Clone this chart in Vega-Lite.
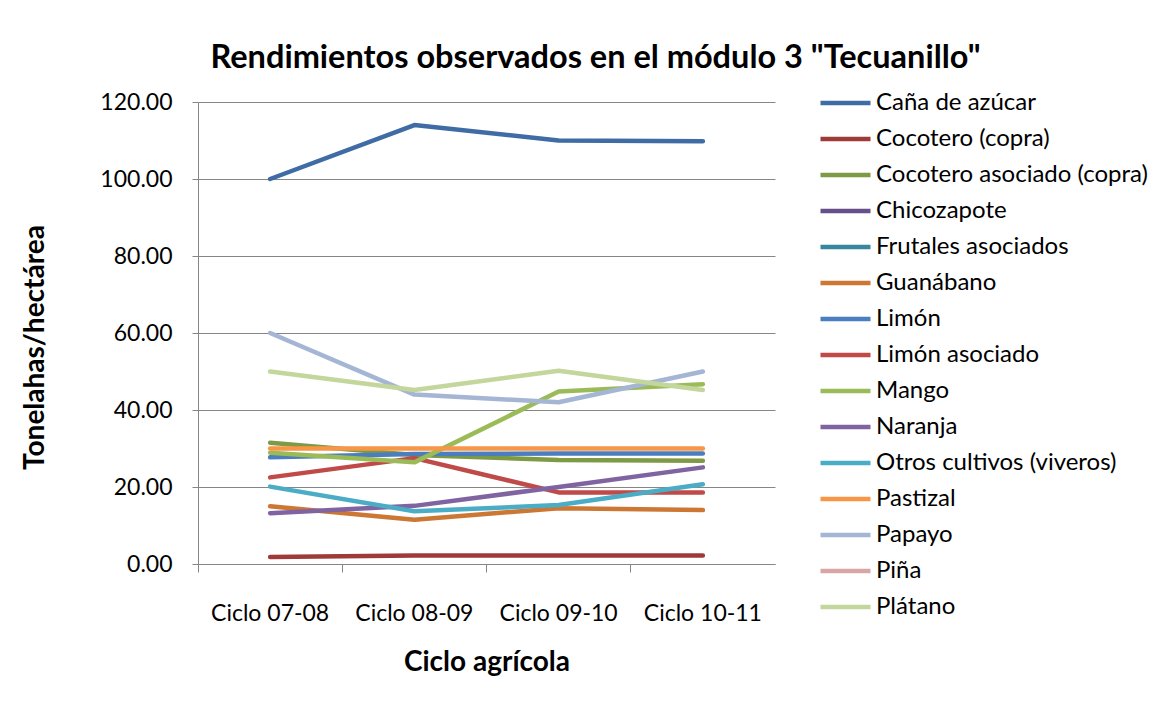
{
  "$schema": "https://vega.github.io/schema/vega-lite/v6.json",
  "width": 577,
  "height": 462,
  "autosize": {"type": "none"},
  "padding": {"left": 198, "top": 102, "right": 400, "bottom": 145},
  "background": "white",
  "title": {
    "text": "Rendimientos observados en el módulo 3 \"Tecuanillo\"",
    "font": "Lato",
    "fontSize": 32.5,
    "fontWeight": "bold",
    "color": "#000000",
    "anchor": "middle",
    "dx": 109,
    "offset": 11
  },
  "data": {
    "values": [
      {"ciclo": "Ciclo 07-08", "cultivo": "Caña de azúcar", "valor": 100.0},
      {"ciclo": "Ciclo 08-09", "cultivo": "Caña de azúcar", "valor": 114.0},
      {"ciclo": "Ciclo 09-10", "cultivo": "Caña de azúcar", "valor": 110.0},
      {"ciclo": "Ciclo 10-11", "cultivo": "Caña de azúcar", "valor": 109.8},
      {"ciclo": "Ciclo 07-08", "cultivo": "Cocotero (copra)", "valor": 1.8},
      {"ciclo": "Ciclo 08-09", "cultivo": "Cocotero (copra)", "valor": 2.2},
      {"ciclo": "Ciclo 09-10", "cultivo": "Cocotero (copra)", "valor": 2.2},
      {"ciclo": "Ciclo 10-11", "cultivo": "Cocotero (copra)", "valor": 2.2},
      {"ciclo": "Ciclo 07-08", "cultivo": "Cocotero asociado (copra)", "valor": 31.5},
      {"ciclo": "Ciclo 08-09", "cultivo": "Cocotero asociado (copra)", "valor": 28.3},
      {"ciclo": "Ciclo 09-10", "cultivo": "Cocotero asociado (copra)", "valor": 27.0},
      {"ciclo": "Ciclo 10-11", "cultivo": "Cocotero asociado (copra)", "valor": 26.8},
      {"ciclo": "Ciclo 07-08", "cultivo": "Guanábano", "valor": 15.0},
      {"ciclo": "Ciclo 08-09", "cultivo": "Guanábano", "valor": 11.5},
      {"ciclo": "Ciclo 09-10", "cultivo": "Guanábano", "valor": 14.5},
      {"ciclo": "Ciclo 10-11", "cultivo": "Guanábano", "valor": 14.0},
      {"ciclo": "Ciclo 07-08", "cultivo": "Limón", "valor": 27.7},
      {"ciclo": "Ciclo 08-09", "cultivo": "Limón", "valor": 28.6},
      {"ciclo": "Ciclo 09-10", "cultivo": "Limón", "valor": 28.7},
      {"ciclo": "Ciclo 10-11", "cultivo": "Limón", "valor": 28.7},
      {"ciclo": "Ciclo 07-08", "cultivo": "Limón asociado", "valor": 22.5},
      {"ciclo": "Ciclo 08-09", "cultivo": "Limón asociado", "valor": 27.5},
      {"ciclo": "Ciclo 09-10", "cultivo": "Limón asociado", "valor": 18.6},
      {"ciclo": "Ciclo 10-11", "cultivo": "Limón asociado", "valor": 18.6},
      {"ciclo": "Ciclo 07-08", "cultivo": "Mango", "valor": 28.9},
      {"ciclo": "Ciclo 08-09", "cultivo": "Mango", "valor": 26.4},
      {"ciclo": "Ciclo 09-10", "cultivo": "Mango", "valor": 44.8},
      {"ciclo": "Ciclo 10-11", "cultivo": "Mango", "valor": 46.7},
      {"ciclo": "Ciclo 07-08", "cultivo": "Naranja", "valor": 13.2},
      {"ciclo": "Ciclo 08-09", "cultivo": "Naranja", "valor": 15.1},
      {"ciclo": "Ciclo 09-10", "cultivo": "Naranja", "valor": 20.0},
      {"ciclo": "Ciclo 10-11", "cultivo": "Naranja", "valor": 25.1},
      {"ciclo": "Ciclo 07-08", "cultivo": "Otros cultivos (viveros)", "valor": 20.1},
      {"ciclo": "Ciclo 08-09", "cultivo": "Otros cultivos (viveros)", "valor": 13.7},
      {"ciclo": "Ciclo 09-10", "cultivo": "Otros cultivos (viveros)", "valor": 15.3},
      {"ciclo": "Ciclo 10-11", "cultivo": "Otros cultivos (viveros)", "valor": 20.7},
      {"ciclo": "Ciclo 07-08", "cultivo": "Pastizal", "valor": 30.0},
      {"ciclo": "Ciclo 08-09", "cultivo": "Pastizal", "valor": 30.0},
      {"ciclo": "Ciclo 09-10", "cultivo": "Pastizal", "valor": 30.0},
      {"ciclo": "Ciclo 10-11", "cultivo": "Pastizal", "valor": 30.0},
      {"ciclo": "Ciclo 07-08", "cultivo": "Papayo", "valor": 60.0},
      {"ciclo": "Ciclo 08-09", "cultivo": "Papayo", "valor": 44.0},
      {"ciclo": "Ciclo 09-10", "cultivo": "Papayo", "valor": 42.0},
      {"ciclo": "Ciclo 10-11", "cultivo": "Papayo", "valor": 50.0},
      {"ciclo": "Ciclo 07-08", "cultivo": "Plátano", "valor": 50.0},
      {"ciclo": "Ciclo 08-09", "cultivo": "Plátano", "valor": 45.2},
      {"ciclo": "Ciclo 09-10", "cultivo": "Plátano", "valor": 50.2},
      {"ciclo": "Ciclo 10-11", "cultivo": "Plátano", "valor": 45.2}
    ]
  },
  "mark": {"type": "line", "strokeWidth": 4.5, "strokeCap": "round", "strokeJoin": "round"},
  "encoding": {
    "x": {
      "field": "ciclo",
      "type": "ordinal",
      "scale": {"type": "band", "paddingInner": 0, "paddingOuter": 0},
      "axis": {
        "title": "Ciclo agrícola",
        "labelAngle": 0,
        "bandPosition": 0,
        "labelFont": "Lato",
        "labelFontSize": 23,
        "labelColor": "#000000",
        "labelPadding": 30,
        "tickSize": 8,
        "tickColor": "#868686",
        "domainColor": "#868686",
        "titleFont": "Lato",
        "titleFontSize": 28,
        "titleFontWeight": "bold",
        "titleColor": "#000000",
        "titleY": 98,
        "titleBaseline": "middle",
        "grid": false
      }
    },
    "y": {
      "field": "valor",
      "type": "quantitative",
      "scale": {"domain": [0, 120], "nice": false},
      "axis": {
        "title": "Tonelahas/hectárea",
        "values": [0, 20, 40, 60, 80, 100, 120],
        "format": ".2f",
        "labelFont": "Lato",
        "labelFontSize": 23,
        "labelColor": "#000000",
        "labelPadding": 20,
        "tickSize": 6,
        "tickColor": "#868686",
        "domainColor": "#868686",
        "gridColor": "#868686",
        "grid": true,
        "titleFont": "Lato",
        "titleFontSize": 28,
        "titleFontWeight": "bold",
        "titleColor": "#000000",
        "titleX": -163,
        "titleY": 245,
        "titleAngle": 270,
        "titleAlign": "center",
        "titleBaseline": "middle"
      }
    },
    "color": {
      "field": "cultivo",
      "type": "nominal",
      "scale": {
        "domain": ["Caña de azúcar", "Cocotero (copra)", "Cocotero asociado (copra)", "Chicozapote", "Frutales asociados", "Guanábano", "Limón", "Limón asociado", "Mango", "Naranja", "Otros cultivos (viveros)", "Pastizal", "Papayo", "Piña", "Plátano"],
        "range": ["#3F6CA4", "#9E3B38", "#7E9A45", "#66508A", "#37889F", "#CC7733", "#4A7EBF", "#BF4A48", "#9BBB59", "#8064A2", "#4BACC6", "#F79646", "#A5B5D4", "#D9A6A6", "#C3D69B"]
      },
      "legend": {
        "title": null,
        "orient": "none",
        "legendX": 620,
        "legendY": -17,
        "symbolType": "stroke",
        "symbolSize": 2500,
        "symbolStrokeWidth": 4.5,
        "labelFont": "Lato",
        "labelFontSize": 24,
        "labelColor": "#000000",
        "labelOffset": 3,
        "rowPadding": 0,
        "clipHeight": 36,
        "labelLimit": 400
      }
    },
    "order": {"field": "cultivo"}
  },
  "config": {
    "view": {"stroke": null}
  }
}
